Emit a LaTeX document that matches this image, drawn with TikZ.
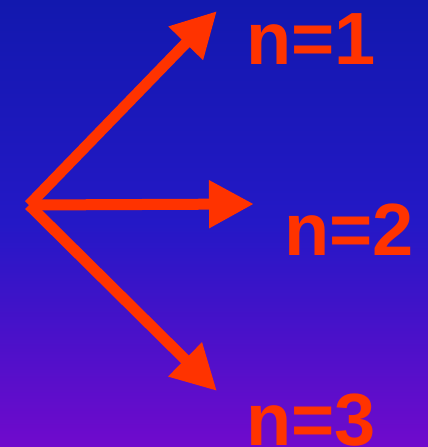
\documentclass[tikz,border=0pt]{standalone}
\usepackage{fontspec}
\setmainfont{Liberation Sans}
\usetikzlibrary{arrows.meta}
\definecolor{bgtop}{HTML}{1218AE}
\definecolor{bgmid}{HTML}{2418C6}
\definecolor{bgbot}{HTML}{700ACC}
\definecolor{arrred}{HTML}{FF3300}
\begin{document}
\begin{tikzpicture}[x=1pt, y=-1pt,
  vec/.style={-{Triangle[length=45pt, width=45pt]}, line width=11pt, color=arrred},
  lbl/.style={anchor=base west, inner sep=0pt, text=arrred, font=\fontsize{74}{80}\selectfont\bfseries}]
\useasboundingbox (0,0) rectangle (428,447);
\fill[top color=bgtop, bottom color=bgbot, middle color=bgmid] (0,0) rectangle (428,447);
\coordinate (o) at (29,205);
\coordinate (t1) at (217,11);
\coordinate (t2) at (254,204);
\coordinate (t3) at (217,391);
\draw[vec] (o) -- (t1);
\draw[vec] (o) -- (t2);
\draw[vec] (o) -- (t3);
\node[lbl] (n1) at (246,64) {n=1};
\node[lbl] (n2) at (284,255) {n=2};
\node[lbl] (n3) at (246,445) {n=3};
\end{tikzpicture}
\end{document}
